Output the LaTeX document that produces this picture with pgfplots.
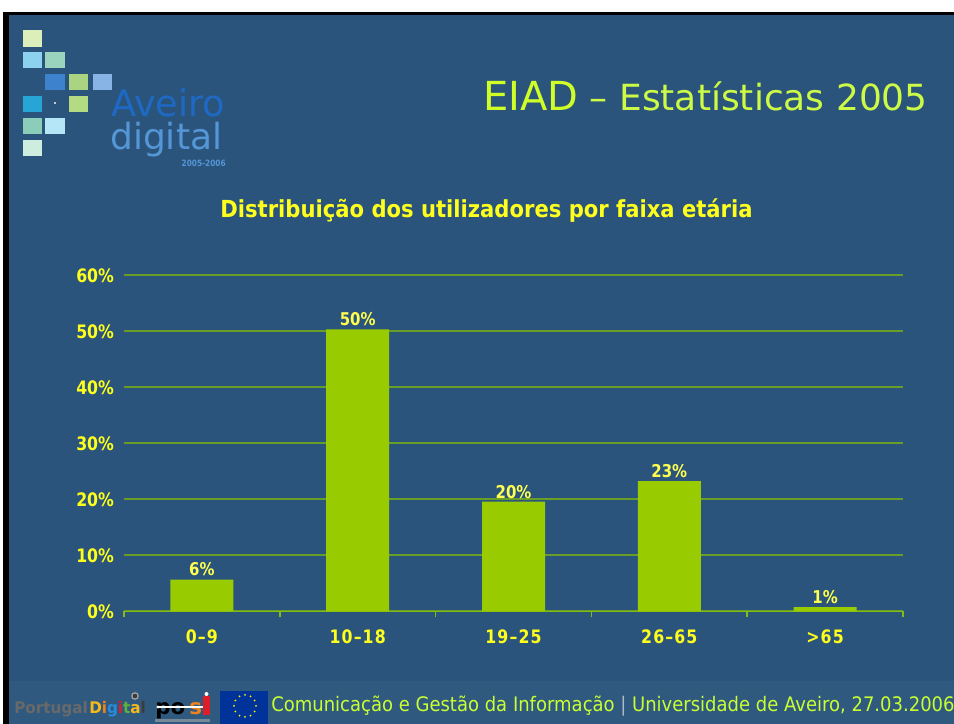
\documentclass[border=0pt]{standalone}
\usepackage{fontspec}
\setmainfont{DejaVu Sans}
\newfontfamily\tickfont[FakeStretch=0.85]{DejaVu Sans}
\newfontfamily\xtickfont[FakeStretch=0.85,LetterSpace=6]{DejaVu Sans}
\newfontfamily\ctitlefont[FakeStretch=0.9]{DejaVu Sans}
\newfontfamily\footfont[FakeStretch=0.9]{DejaVu Sans}
\newfontfamily\logofont[FakeStretch=0.95]{DejaVu Sans}
\usepackage{pgfplots}
\pgfplotsset{compat=1.18}
\definecolor{slidebg}{RGB}{42,84,124}
\definecolor{footbg}{RGB}{48,89,128}
\definecolor{barcol}{RGB}{153,204,0}
\definecolor{gridcol}{RGB}{104,158,40}
\definecolor{axiscol}{RGB}{130,188,20}
\definecolor{tickyel}{RGB}{255,255,30}
\definecolor{valyel}{RGB}{255,255,80}
\definecolor{eiadcol}{RGB}{208,255,40}
\definecolor{titlecol}{RGB}{205,250,70}
\definecolor{footcol}{RGB}{200,255,50}
\definecolor{aveiro}{RGB}{30,105,195}
\definecolor{digitalc}{RGB}{85,150,215}
\definecolor{pgray}{RGB}{60,60,60}
\definecolor{pmid}{RGB}{105,105,105}
\definecolor{plight}{RGB}{170,170,170}
\definecolor{dblue}{RGB}{40,140,220}
\definecolor{dgreen}{RGB}{90,180,60}
\definecolor{dyel}{RGB}{245,185,30}
\definecolor{dorange}{RGB}{240,130,30}
\definecolor{posired}{RGB}{220,30,40}
\definecolor{eublue}{RGB}{0,51,153}
\definecolor{sqA}{RGB}{220,238,185}
\definecolor{sqB}{RGB}{140,210,238}
\definecolor{sqC}{RGB}{155,212,190}
\definecolor{sqD}{RGB}{60,130,205}
\definecolor{sqE}{RGB}{170,212,130}
\definecolor{sqF}{RGB}{135,180,228}
\definecolor{sqG}{RGB}{40,165,215}
\definecolor{sqH}{RGB}{180,218,130}
\definecolor{sqI}{RGB}{140,205,185}
\definecolor{sqJ}{RGB}{180,230,248}
\definecolor{sqK}{RGB}{205,238,222}
\begin{document}
\begin{tikzpicture}[x=0.75pt,y=0.75pt]
\clip (0,0) rectangle (954,724);
\fill[white] (0,0) rectangle (954,724);
\fill[black] (3,0) rectangle (954,712);
\fill[slidebg] (9,0) rectangle (954,709);
\fill[footbg] (9,0) rectangle (954,43);
% logo squares
\fill[sqA] (23,677) rectangle (42,694);
\fill[sqB] (23,656) rectangle (42,672);
\fill[sqC] (45,656) rectangle (65,672);
\fill[sqD] (45,634) rectangle (65,650);
\fill[sqE] (69,634) rectangle (88,650);
\fill[sqF] (93,634) rectangle (112,650);
\fill[sqG] (23,612) rectangle (42,628);
\fill[white!70!slidebg] (54,620) rectangle (56,622);
\fill[sqH] (69,612) rectangle (88,628);
\fill[sqI] (23,590) rectangle (42,606);
\fill[sqJ] (45,590) rectangle (65,606);
\fill[sqK] (23,568) rectangle (42,584);
\node[anchor=base west, inner sep=0pt, text=aveiro, font=\fontsize{27.5}{28}\selectfont] at (111,607) {Aveiro};
\node[anchor=base west, inner sep=0pt, text=digitalc, font=\fontsize{27}{28}\selectfont] at (110,574) {digital};
\node[anchor=base east, inner sep=0pt, text=digitalc, font=\tickfont\bfseries\fontsize{6.5}{7}\selectfont] at (226,557) {2005-2006};
% title
\node[anchor=base west, inner sep=0pt, text=titlecol] at (483,613) {\fontsize{30}{30}\selectfont\textcolor{eiadcol}{EIAD}\fontsize{27}{27}\selectfont\ – Estatísticas 2005};
% chart title
\node[anchor=base, inner sep=0pt, text=tickyel, font=\ctitlefont\bfseries\fontsize{17.6}{18}\selectfont] at (486.5,506) {Distribuição dos utilizadores por faixa etária};
\begin{axis}[
  at={(93pt,84.375pt)}, anchor=south west,
  scale only axis, width=584.25pt, height=252pt,
  xmin=-0.5, xmax=4.5, ymin=0, ymax=60,
  xtick={0,1,2,3,4},
  xticklabels={0–9,10–18,19–25,26–65,>65},
  minor xtick={-0.5,0.5,1.5,2.5,3.5,4.5},
  ytick={0,10,20,30,40,50,60},
  yticklabels={0\%,10\%,20\%,30\%,40\%,50\%,60\%},
  tick align=outside,
  major tick length=0pt, minor tick length=4.5pt,
  every tick/.style={draw=axiscol, line width=1.3pt},
  minor tick style={draw=axiscol, line width=1.3pt},
  axis x line*=bottom, axis y line*=left,
  every outer x axis line/.style={draw=axiscol, line width=1.3pt},
  x axis line style={draw=axiscol, line width=1.3pt, -},
  y axis line style={draw=none, -},
  ymajorgrids,
  every axis grid/.style={draw=gridcol, line width=1.5pt},
  major grid style={draw=gridcol, line width=1.5pt},
  yticklabel style={text=tickyel, font=\tickfont\bfseries\fontsize{13.9}{14}\selectfont},
  xticklabel style={text=tickyel, font=\xtickfont\bfseries\fontsize{13.9}{14}\selectfont},
  xticklabel shift=10pt, yticklabel shift=4pt,
  /pgf/number format/assume math mode=true,
  ybar, bar width=47.25pt, bar shift=0pt,
  nodes near coords, point meta=explicit symbolic,
  every node near coord/.append style={text=valyel, font=\tickfont\bfseries\fontsize{13.2}{14}\selectfont, anchor=south, yshift=-1pt},
]
\addplot[fill=barcol, draw=none] coordinates {
 (0,5.7) [6\%]
 (1,50.4) [50\%]
 (2,19.6) [20\%]
 (3,23.3) [23\%]
 (4,0.8) [1\%]
};
\end{axis}
% footer logos
\node[anchor=base west, inner sep=0pt, text=pmid, font=\logofont\bfseries\fontsize{12}{12}\selectfont] at (14,10) {Portugal};
\node[anchor=base west, inner sep=0pt, font=\logofont\bfseries\fontsize{12}{12}\selectfont] at (89,10) {\textcolor{dyel}{D}\textcolor{dorange}{i}\textcolor{dblue}{g}\textcolor{posired}{i}\textcolor{dgreen}{t}\textcolor{dyel}{a}\textcolor{pgray}{l}};
\fill[plight] (135,28) circle (3.8);
\fill[pgray] (135,28) circle (2.4);
\node[anchor=base west, inner sep=0pt, text=black, font=\bfseries\fontsize{16}{16}\selectfont] at (155,9) {po};
\node[anchor=base west, inner sep=0pt, text=dorange, font=\bfseries\fontsize{16}{16}\selectfont] at (189,9) {s};
\draw[white, line width=1pt] (158,17) -- (203,17);
\fill[white] (158,17) circle (1.6);
\fill[posired] (203,9) rectangle (210,28);
\fill[white] (206.5,30) circle (2);
\fill[plight!60!slidebg] (155,2) rectangle (210,5);
\fill[eublue] (220,0) rectangle (268,33);
\foreach \a in {0,30,...,330} \fill[yellow] (245,18) ++(\a:11) circle (1);
\node[anchor=base west, inner sep=0pt, text=footcol, font=\footfont\fontsize{15}{15}\selectfont] at (271,12) {Comunicação e Gestão da Informação {\color{white!60!slidebg}|} Universidade de Aveiro, 27.03.2006};
\end{tikzpicture}
\end{document}
